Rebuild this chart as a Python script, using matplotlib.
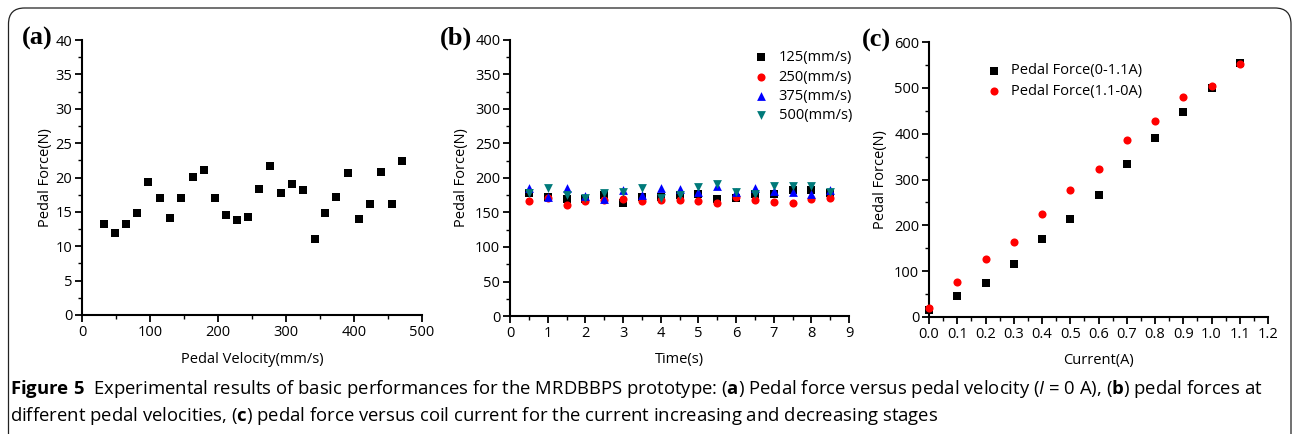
import matplotlib
matplotlib.use("Agg")
import matplotlib.pyplot as plt
from matplotlib.patches import FancyBboxPatch
from matplotlib.ticker import MultipleLocator
from matplotlib import font_manager

names = {f.name for f in font_manager.fontManager.ttflist}
CF = "Liberation Sans Narrow" if "Liberation Sans Narrow" in names else "Open Sans"
SERIF = "Liberation Serif"

plt.rcParams["font.family"] = [CF, "DejaVu Sans"]
plt.rcParams["mathtext.fontset"] = "custom"
plt.rcParams["mathtext.rm"] = CF
plt.rcParams["mathtext.bf"] = CF + ":bold"
plt.rcParams["mathtext.it"] = CF + ":italic"

# ---------------- data ----------------
# (a) pedal force vs pedal velocity
vel_a = [32, 48, 65, 81, 97, 114, 130, 146, 163, 179, 195, 212, 228, 244,
         260, 277, 293, 309, 325, 342, 358, 374, 391, 407, 423, 440, 456, 471]
force_a = [13.2, 12.0, 13.2, 14.9, 19.3, 17.0, 14.1, 17.0, 20.1, 21.1, 17.0,
           14.6, 13.8, 14.2, 18.3, 21.7, 17.8, 19.1, 18.2, 11.0, 14.9, 17.2,
           20.6, 14.0, 16.2, 20.8, 16.2, 22.4]

# (b) pedal forces at different pedal velocities
time_b = [0.5, 1.0, 1.5, 2.0, 2.5, 3.0, 3.5, 4.0, 4.5, 5.0, 5.5, 6.0, 6.5,
          7.0, 7.5, 8.0, 8.5]
f125 = [178, 173, 170, 170, 175.6, 163.5, 173, 173, 175.6, 176.5, 169, 170.7,
        176.5, 176.5, 182, 183, 178]
f250 = [166, 171.7, 161.5, 166, 168.3, 169.3, 166, 168.3, 168.8, 167, 164.4,
        172, 167.4, 165, 163.5, 169.8, 171.2]
f375 = [184.8, 172, 185, 174.6, 170, 182, 175.6, 185, 184, 179.5, 189, 179,
        185, 181, 180.4, 176.5, 182.3]
f500 = [178, 185, 175.6, 170.7, 178, 179.5, 185, 170.7, 175.6, 186.7, 191,
        180.4, 177, 188.6, 188.6, 187.7, 180.4]
labels_b = ["125(mm/s)", "250(mm/s)", "375(mm/s)", "500(mm/s)"]

# (c) pedal force vs coil current
current_c = [0.0, 0.1, 0.2, 0.3, 0.4, 0.5, 0.6, 0.7, 0.8, 0.9, 1.0, 1.1]
f_up = [15, 46.6, 73.5, 115, 171, 214, 266.5, 333.5, 389.6, 446.4, 498.8, 553.4]
f_down = [19, 75.7, 126, 164.6, 225, 276.7, 323.3, 385.2, 426.7, 479, 503, 552.7]
labels_c = ["Pedal Force(0-1.1A)", "Pedal Force(1.1-0A)"]

caption1 = (r"$\mathbf{Figure\ 5}$  Experimental results of basic performances for the MRDBBPS "
            r"prototype: ($\mathbf{a}$) Pedal force versus pedal velocity ($\mathit{I}$ = 0 A), "
            r"($\mathbf{b}$) pedal forces at")
caption2 = (r"different pedal velocities, ($\mathbf{c}$) pedal force versus coil current for "
            r"the current increasing and decreasing stages")

# ---------------- figure ----------------
W, H = 1292, 434
fig = plt.figure(figsize=(W / 100, H / 100), dpi=100)

# rounded frame (coordinates in inches = px/100, from bottom-left)
frame = FancyBboxPatch((0.085, -1.0), 12.825, (H - 8) / 100 + 1.0,
                       boxstyle="round,pad=0,rounding_size=0.16",
                       transform=fig.dpi_scale_trans, fill=False,
                       edgecolor="#222222", linewidth=0.9)
fig.patches.append(frame)


def add_ax(l, r, t, b):
    return fig.add_axes([l / W, 1 - b / H, (r - l) / W, (b - t) / H])


def style(ax):
    for s in ("top", "right"):
        ax.spines[s].set_visible(False)
    for s in ("left", "bottom"):
        ax.spines[s].set_linewidth(1.5)
    ax.tick_params(which="major", direction="out", length=5, width=1.3,
                   labelsize=10.5, pad=2)
    ax.tick_params(which="minor", direction="out", length=3, width=1.0)


axa = add_ax(82, 422, 40, 315)
axb = add_ax(510, 849, 40, 316)
axc = add_ax(929, 1268, 42, 317)

# (a)
axa.scatter(vel_a, force_a, marker="s", s=28, color="black", linewidths=0,
            clip_on=False)
axa.set_xlim(0, 500)
axa.set_ylim(0, 40)
axa.xaxis.set_major_locator(MultipleLocator(100))
axa.xaxis.set_minor_locator(MultipleLocator(50))
axa.yaxis.set_major_locator(MultipleLocator(5))
axa.yaxis.set_minor_locator(MultipleLocator(2.5))
axa.set_xlabel("Pedal Velocity(mm/s)", fontsize=10.5, labelpad=9)
axa.set_ylabel("Pedal Force(N)", fontsize=10.5, labelpad=1.5)

# (b)
axb.scatter(time_b, f125, marker="s", s=28, color="black", linewidths=0,
            label=labels_b[0], clip_on=False)
axb.scatter(time_b, f250, marker="o", s=34, color="#FF0000", linewidths=0,
            label=labels_b[1], clip_on=False)
axb.scatter(time_b, f375, marker="^", s=40, color="#0000FF", linewidths=0,
            label=labels_b[2], clip_on=False)
axb.scatter(time_b, f500, marker="v", s=40, color="#007A7A", linewidths=0,
            label=labels_b[3], clip_on=False)
axb.set_xlim(0, 9)
axb.set_ylim(0, 400)
axb.xaxis.set_major_locator(MultipleLocator(1))
axb.xaxis.set_minor_locator(MultipleLocator(0.5))
axb.yaxis.set_major_locator(MultipleLocator(50))
axb.yaxis.set_minor_locator(MultipleLocator(25))
axb.set_xlabel("Time(s)", fontsize=10.5, labelpad=8)
axb.set_ylabel("Pedal Force(N)", fontsize=10.5, labelpad=4)
axb.legend(loc="upper right", bbox_to_anchor=(1.035, 0.995), frameon=False,
           fontsize=10.5, handletextpad=0.8, labelspacing=0.3,
           handlelength=0.8, borderaxespad=0.2)

# (c)
axc.scatter(current_c, f_up, marker="s", s=28, color="black", linewidths=0,
            label=labels_c[0], clip_on=False, zorder=3)
axc.scatter(current_c, f_down, marker="o", s=34, color="#FF0000",
            linewidths=0, label=labels_c[1], clip_on=False, zorder=3)
axc.set_xlim(0, 1.2)
axc.set_ylim(0, 600)
axc.xaxis.set_major_locator(MultipleLocator(0.1))
axc.xaxis.set_minor_locator(MultipleLocator(0.05))
axc.yaxis.set_major_locator(MultipleLocator(100))
axc.yaxis.set_minor_locator(MultipleLocator(50))
axc.xaxis.set_major_formatter(plt.FuncFormatter(lambda v, p: f"{v:.1f}"))
axc.set_xlabel("Current(A)", fontsize=10.5, labelpad=8)
axc.set_ylabel("Pedal Force(N)", fontsize=10.5, labelpad=4)
axc.legend(loc="upper left", bbox_to_anchor=(0.135, 0.97), frameon=False,
           fontsize=10.5, handletextpad=0.8, labelspacing=0.4,
           handlelength=0.8)

for ax in (axa, axb, axc):
    style(ax)

# panel letters
for x, y, t in ((22, 38, "(a)"), (440, 38, "(b)"), (862, 40, "(c)")):
    fig.text(x / W, 1 - y / H, t, family=SERIF, weight="bold", fontsize=19,
             va="center", ha="left")

# caption
fig.text(10 / W, 1 - 389 / H, caption1, fontsize=13.3, va="center", ha="left")
fig.text(10 / W, 1 - 416 / H, caption2, fontsize=13.3, va="center", ha="left")

fig.savefig("out.png", dpi=100)
